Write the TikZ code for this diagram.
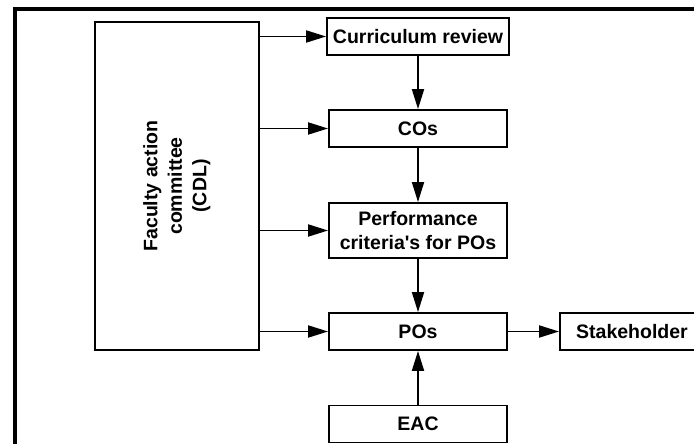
\documentclass[tikz,border=0pt]{standalone}
\usepackage{fontspec}
\setmainfont{Liberation Sans}
\usetikzlibrary{arrows.meta}
\newcommand{\straightquote}{\XeTeXglyph\XeTeXcharglyph"0027\relax}
\begin{document}
\begin{tikzpicture}[x=1bp,y=-1bp,
  box/.style={draw, line width=1.9bp, inner sep=0pt, align=center,
    font=\fontsize{19.5bp}{24.5bp}\selectfont\bfseries},
  arr/.style={line width=1.9bp, -{Triangle[length=20bp,width=12bp]}}]
\useasboundingbox (0,0) rectangle (694,444);
\clip (0,0) rectangle (694,444);
\draw[line width=3.5bp] (15,480) -- (15,9) -- (720,9);
\node[box, minimum width=164bp, minimum height=328bp] (fac) at (177,186)
  {\rotatebox{90}{\begin{tabular}{@{}c@{}}Faculty action\\committee\\(CDL)\end{tabular}}};
\node[box, minimum width=182bp, minimum height=37bp] (cr) at (418,36.5) {Curriculum review};
\node[box, minimum width=178bp, minimum height=37bp] (cos) at (418,128.5) {COs};
\node[box, minimum width=178bp, minimum height=55bp] (perf) at (418,230.5) {Performance\\criteria\straightquote s for POs};
\node[box, minimum width=178bp, minimum height=37bp] (pos) at (418,331.5) {POs};
\node[box, minimum width=178bp, minimum height=37bp] (eac) at (418,424) {EAC};
\node[box, minimum width=144bp, minimum height=37bp] (stk) at (632,331.5) {Stakeholder};
\draw[arr] (fac.east |- cr.west) -- (cr.west);
\draw[arr] (fac.east |- cos.west) -- (cos.west);
\draw[arr] (fac.east |- perf.west) -- (perf.west);
\draw[arr] (fac.east |- pos.west) -- (pos.west);
\draw[arr] (cr) -- (cos);
\draw[arr] (cos) -- (perf);
\draw[arr] (perf) -- (pos);
\draw[arr] (eac) -- (pos);
\draw[arr] (pos) -- (stk);
\end{tikzpicture}
\end{document}
